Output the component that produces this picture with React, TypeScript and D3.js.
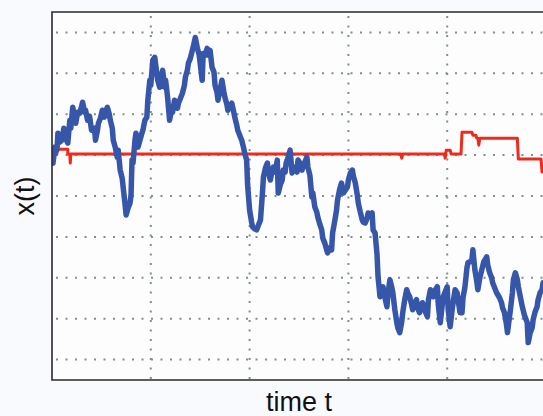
import React from "react";
import * as d3 from "d3";

// time steps (0..500) and process values (arbitrary units)
const blueT = [0,1,3,5,6,8,10,12,13,15,16,18,19,21,23,24,26,28,30,31,33,34,36,38,40,43,44,46,47,49,51,53,54,56,58,59,61,62,64,66,67,69,71,72,74,75,77,79,80,81,82,84,85,86,87,89,91,92,94,96,97,99,100,102,104,105,107,109,110,112,114,115,117,119,121,122,124,127,128,130,132,134,135,137,138,140,142,144,145,147,149,150,152,153,155,157,159,160,162,164,165,167,168,170,172,174,175,177,178,180,182,184,185,187,188,190,192,194,195,197,198,200,202,203,205,207,209,211,213,214,216,218,219,221,223,224,226,228,229,231,233,234,236,237,239,241,243,244,246,248,249,251,253,254,256,258,259,261,263,264,266,268,269,271,273,274,276,278,279,281,283,284,286,288,289,291,293,295,297,299,300,302,304,305,307,309,310,312,314,315,317,319,320,322,324,325,327,329,330,332,334,335,337,339,340,342,344,345,347,349,350,352,354,355,357,359,360,362,364,365,367,369,370,372,374,375,377,380,381,383,385,386,388,390,391,393,395,396,398,400,401,403,405,406,408,410,411,413,415,416,418,420,421,423,425,426,428,430,431,433,435,437,440,441,443,445,446,448,450,453,455,456,458,460,461,464,466,467,469,471,472,474,476,478,481,482,484,486,487,489,491,492,494,496,497,500];
const blueX = [34,33,49,46,63,54,56,68,64,55,53,76,68,89,78,73,84,83,90,94,84,86,76,80,66,68,56,66,73,78,86,79,84,89,82,76,68,56,49,39,46,26,18,9,-9,-19,-12,-7,1,36,33,56,63,59,49,56,63,66,76,79,96,116,111,136,139,131,116,109,118,126,109,116,99,76,86,84,96,88,93,98,103,111,119,126,133,138,146,154,159,149,141,133,116,143,141,148,141,146,129,124,111,104,96,106,116,104,99,92,86,90,93,84,79,71,66,61,56,48,43,36,11,-14,-26,-31,-33,-34,-29,-24,3,19,28,33,24,16,26,29,24,36,3,11,16,26,24,33,39,46,23,28,29,24,36,33,26,29,34,39,29,21,-1,3,-11,-16,-21,-28,-34,-42,-47,-54,-57,-52,-54,-37,-26,-14,-4,6,13,3,6,9,16,23,26,20,13,1,-7,-16,-24,-26,-27,-22,-17,-19,-17,-34,-37,-59,-81,-101,-94,-91,-102,-111,-99,-84,-92,-97,-114,-127,-132,-137,-126,-117,-104,-94,-97,-101,-109,-114,-107,-104,-112,-117,-110,-107,-114,-121,-104,-94,-99,-101,-94,-91,-109,-127,-109,-101,-96,-91,-114,-131,-114,-107,-94,-97,-104,-117,-117,-102,-91,-72,-67,-66,-64,-54,-74,-86,-94,-82,-74,-66,-61,-69,-77,-82,-87,-92,-97,-102,-107,-112,-117,-129,-137,-114,-97,-84,-77,-84,-91,-101,-111,-119,-127,-147,-137,-132,-124,-116,-111,-104,-97,-94,-87,-92];

const redT = [0,5,5,16,16,18,18.5,19,353,354,355,397,398,399,403,404,414,415,425,426,429,430,431,432,433,471,472,495,496,500];
const redX = [42,42,47,47,42,42,33,42,42,38,42,42,38,46,46,42,42,64,64,61,61,58,58,51,58,58,37,37,24,24];

const gridT = [100, 200, 300, 400];
const gridX = [-164, -123, -82, -41, 0, 41, 82, 123, 164];

const W = 543, H = 416;
const L = 52, R = 546, T = 12, B = 380;

export default function App() {
  const x = d3.scaleLinear().domain([0, 500]).range([L, R]);
  const y = d3.scaleLinear().domain([-184.5, 184.5]).range([B, T]);
  const line = d3.line<[number, number]>().x(d => x(d[0])).y(d => y(d[1]));
  const blue = line(blueT.map((t, i) => [t, blueX[i]] as [number, number]));
  const red = line(redT.map((t, i) => [t, redX[i]] as [number, number]));
  const font = "'Liberation Sans', Arial, sans-serif";
  return (
    <div style={{ position: "fixed", left: 0, top: 0, width: W, height: H, background: "#f9fafd" }}>
      <svg width={W} height={H} style={{ display: "block" }}>
        <defs>
          <clipPath id="plot"><rect x={L} y={T} width={R - L} height={B - T} /></clipPath>
        </defs>
        <rect x={L} y={T} width={R - L} height={B - T} fill="#fdfdfe" />
        <g stroke="#7d8f8f" strokeWidth={2} strokeDasharray="2,7.5" fill="none">
          {gridX.map(v => <line key={"h" + v} x1={L + 4} x2={R} y1={y(v)} y2={y(v)} />)}
          {gridT.map(t => <line key={"v" + t} x1={x(t)} x2={x(t)} y1={T + 4} y2={B} />)}
        </g>
        <g clipPath="url(#plot)" fill="none" strokeLinejoin="round" strokeLinecap="round">
          <path d={red!} stroke="#ec2b1c" strokeWidth={3} />
          <path d={blue!} stroke="#3656aa" strokeWidth={5.5} />
        </g>
        <path d={`M${L},${T}V${B}H${R}V${T}Z`} fill="none" stroke="#2a2a2a" strokeWidth={1.6} />
        <text x={(L + R) / 2} y={411} textAnchor="middle" fontFamily={font} fontSize={27} fill="#111">time t</text>
        <text transform={`translate(34,${(T + B) / 2}) rotate(-90)`} textAnchor="middle" fontFamily={font} fontSize={27} fill="#111">x(t)</text>
      </svg>
    </div>
  );
}
